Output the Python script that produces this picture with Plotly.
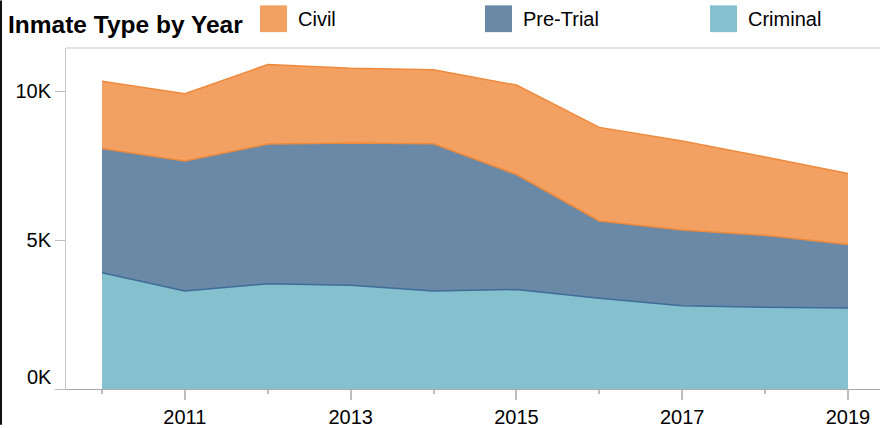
import plotly.graph_objects as go

# Inmate counts by year, stacked bottom to top: Criminal, Pre-Trial, Civil
years = [2010, 2011, 2012, 2013, 2014, 2015, 2016, 2017, 2018, 2019]
criminal = [3900, 3290, 3530, 3480, 3290, 3340, 3050, 2790, 2740, 2720]
pre_trial = [4170, 4360, 4690, 4780, 4940, 3860, 2590, 2550, 2420, 2130]
civil = [2260, 2260, 2670, 2505, 2485, 3000, 3140, 2985, 2630, 2385]

series_names = ["Criminal", "Pre-Trial", "Civil"]
series_values = [criminal, pre_trial, civil]
fill_colors = ["#84C0CD", "#6A89A7", "#F3A063"]
edge_colors = ["#5AAFC6", "#3F6C98", "#EE8A3C"]

y_tick_vals = [0, 5000, 10000]
y_tick_text = ["", "5K", "10K"]
x_major_ticks = [2011, 2013, 2015, 2017, 2019]

FONT = "Liberation Sans, Arial, sans-serif"
W, H = 880, 428
L, R, T, B = 66, 0, 48, 36
plot_w = W - L - R
plot_h = H - T - B


def px_x(px):
    return (px - L) / plot_w


def px_y(py):
    return (H - B - py) / plot_h


fig = go.Figure()

# Stacked areas; each trace's line sits on the boundary with the layer above
boundary_colors = [edge_colors[1], edge_colors[2], edge_colors[2]]
for name, vals, fc, lc in zip(series_names, series_values, fill_colors, boundary_colors):
    fig.add_trace(go.Scatter(
        x=years, y=vals, name=name, mode="lines",
        stackgroup="inmates", fillcolor=fc,
        line=dict(color=lc, width=1.5),
        showlegend=False,
    ))

shapes = []
annotations = []

# Legend: Civil, Pre-Trial, Criminal
legend_order = [("Civil", fill_colors[2]), ("Pre-Trial", fill_colors[1]), ("Criminal", fill_colors[0])]
for i, (label, color) in enumerate(legend_order):
    x0 = 260 + 225 * i
    shapes.append(dict(
        type="rect", xref="paper", yref="paper",
        x0=px_x(x0), x1=px_x(x0 + 27), y0=px_y(32), y1=px_y(5),
        fillcolor=color, line=dict(width=0), layer="above",
    ))
    annotations.append(dict(
        text=label, xref="paper", yref="paper",
        x=px_x(x0 + 36), y=px_y(18.5), xanchor="left", yanchor="middle",
        showarrow=False, font=dict(family=FONT, size=20, color="#000"),
    ))

# Plot frame top edge
shapes.append(dict(
    type="line", xref="paper", yref="paper", x0=0, x1=1, y0=1, y1=1,
    line=dict(color="#C8C8C8", width=1),
))
# Dark rule down the left edge of the page
shapes.append(dict(
    type="line", xref="paper", yref="paper",
    x0=px_x(1), x1=px_x(1), y0=px_y(H), y1=px_y(0),
    line=dict(color="#111", width=2),
))

# Zero label sits flush above the baseline
annotations.append(dict(
    text="0K", xref="paper", yref="y", x=0, y=0,
    xanchor="right", yanchor="middle", xshift=-12, yshift=12,
    showarrow=False, font=dict(family=FONT, size=20, color="#000"),
))

fig.update_layout(
    width=W, height=H,
    margin=dict(l=L, r=R, t=T, b=B, pad=0),
    paper_bgcolor="white", plot_bgcolor="white",
    title=dict(
        text="<b>Inmate Type by Year</b>", xref="container", yref="container",
        x=8 / W, y=1 - 24 / H, xanchor="left", yanchor="middle",
        font=dict(family=FONT, size=24.5, color="#000"),
    ),
    showlegend=False,
    shapes=shapes,
    annotations=annotations,
    xaxis=dict(
        range=[2009.566, 2019.386],
        tickvals=x_major_ticks, ticktext=[str(v) for v in x_major_ticks],
        ticks="outside", ticklen=10, tickwidth=2, tickcolor="#BDBDBD",
        minor=dict(dtick=1, tick0=2010, ticks="outside", ticklen=4, tickwidth=2, tickcolor="#BDBDBD"),
        showline=True, linecolor="#AAAAAA", linewidth=1,
        showgrid=False, zeroline=False,
        tickfont=dict(family=FONT, size=20, color="#000"),
    ),
    yaxis=dict(
        range=[0, 11445],
        tickvals=y_tick_vals, ticktext=y_tick_text,
        ticks="outside", ticklen=10, tickwidth=1, tickcolor="#BDBDBD",
        showline=True, linecolor="#C8C8C8", linewidth=1,
        showgrid=False, zeroline=False,
        tickfont=dict(family=FONT, size=20, color="#000"),
    ),
)

fig.write_html("out.html")
